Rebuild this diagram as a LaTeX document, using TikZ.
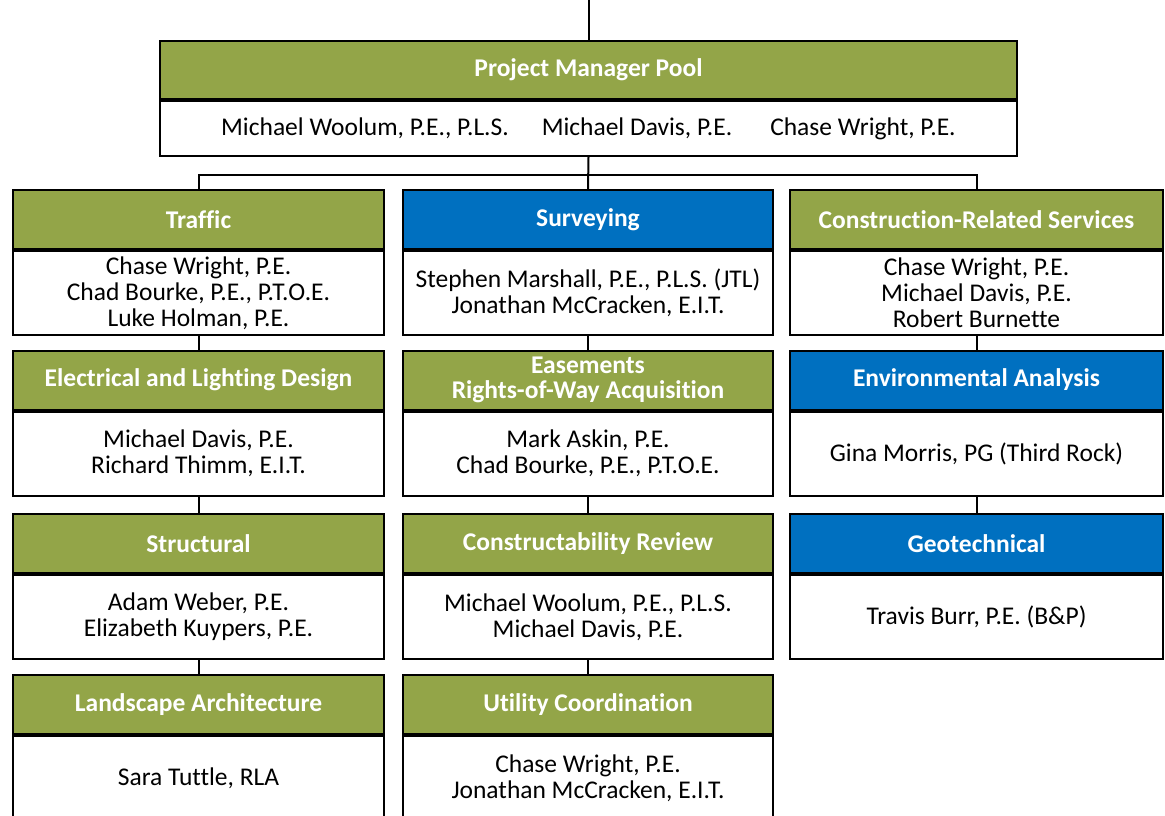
\documentclass[tikz,border=0pt]{standalone}
\usepackage{fontspec}
\setmainfont{Carlito}[Ligatures=NoCommon]
\definecolor{headgreen}{RGB}{147,165,72}
\definecolor{headblue}{RGB}{0,112,192}
\tikzset{
  box/.style={draw, line width=2pt, align=center, anchor=north, inner sep=0pt},
  greenhead/.style={box, fill=headgreen, text=white, font=\fontsize{25.5}{25}\selectfont\bfseries, minimum height=59pt},
  bluehead/.style={greenhead, fill=headblue},
  names/.style={box, fill=white, font=\fontsize{25.5}{26}\selectfont, minimum height=84pt},
  lcol/.style={minimum width=371pt},
  mcol/.style={minimum width=370pt},
  rcol/.style={minimum width=373pt},
  link/.style={line width=2pt}
}
\begin{document}
\begin{tikzpicture}[x=1pt, y=-1pt]
\useasboundingbox (0,0) rectangle (1165,816);
\clip (0,0) rectangle (1165,816);

% pool
\node[greenhead, minimum width=857pt, minimum height=58pt] (pmhead) at (588.5,40) {Project Manager Pool};
\node[names, minimum width=857pt, minimum height=55pt] (pmbody) at (pmhead.south) {Michael Woolum, P.E., P.L.S.\hspace{33pt}Michael Davis, P.E.\hspace{38pt}Chase Wright, P.E.};

% left column
\node[greenhead, lcol] (trafhead) at (198.5,189) {Traffic};
\node[names, lcol] (trafbody) at (trafhead.south) {Chase Wright, P.E.\\Chad Bourke, P.E., P.T.O.E.\\Luke Holman, P.E.};
\node[greenhead, lcol] (elechead) at (198.5,349.5) {Electrical and Lighting Design};
\node[names, lcol] (elecbody) at (elechead.south) {Michael Davis, P.E.\\Richard Thimm, E.I.T.};
\node[greenhead, lcol] (structhead) at (198.5,513) {Structural};
\node[names, lcol] (structbody) at (structhead.south) {Adam Weber, P.E.\\Elizabeth Kuypers, P.E.};
\node[greenhead, lcol] (landhead) at (198.5,674) {Landscape Architecture};
\node[names, lcol] (landbody) at (landhead.south) {Sara Tuttle, RLA};

% middle column
\node[bluehead, mcol] (survhead) at (588,189) {Surveying};
\node[names, mcol] (survbody) at (survhead.south) {Stephen Marshall, P.E., P.L.S. (JTL)\\Jonathan McCracken, E.I.T.};
\node[greenhead, mcol] (easehead) at (588,349.5) {Easements\\Rights-of-Way Acquisition};
\node[names, mcol] (easebody) at (easehead.south) {Mark Askin, P.E.\\Chad Bourke, P.E., P.T.O.E.};
\node[greenhead, mcol] (conshead) at (588,513) {Constructability Review};
\node[names, mcol] (consbody) at (conshead.south) {Michael Woolum, P.E., P.L.S.\\Michael Davis, P.E.};
\node[greenhead, mcol] (utilhead) at (588,674) {Utility Coordination};
\node[names, mcol] (utilbody) at (utilhead.south) {Chase Wright, P.E.\\Jonathan McCracken, E.I.T.};

% right column
\node[greenhead, rcol] (crshead) at (976.5,189) {Construction-Related Services};
\node[names, rcol] (crsbody) at (crshead.south) {Chase Wright, P.E.\\Michael Davis, P.E.\\Robert Burnette};
\node[bluehead, rcol] (envhead) at (976.5,349.5) {Environmental Analysis};
\node[names, rcol] (envbody) at (envhead.south) {Gina Morris, PG (Third Rock)};
\node[bluehead, rcol] (geohead) at (976.5,513) {Geotechnical};
\node[names, rcol] (geobody) at (geohead.south) {Travis Burr, P.E. (B\&P)};

% connectors
\coordinate (top) at (588.5,0);
\coordinate (bus) at (588,175);
\draw[link] (top) -- (pmhead.north);
\draw[link] (pmbody.south) -- (survhead.north);
\draw[link] (trafhead.north) |- (bus) -| (crshead.north);
\draw[link] (trafbody.south) -- (elechead.north);
\draw[link] (elecbody.south) -- (structhead.north);
\draw[link] (structbody.south) -- (landhead.north);
\draw[link] (survbody.south) -- (easehead.north);
\draw[link] (easebody.south) -- (conshead.north);
\draw[link] (consbody.south) -- (utilhead.north);
\draw[link] (crsbody.south) -- (envhead.north);
\draw[link] (envbody.south) -- (geohead.north);
\end{tikzpicture}
\end{document}
